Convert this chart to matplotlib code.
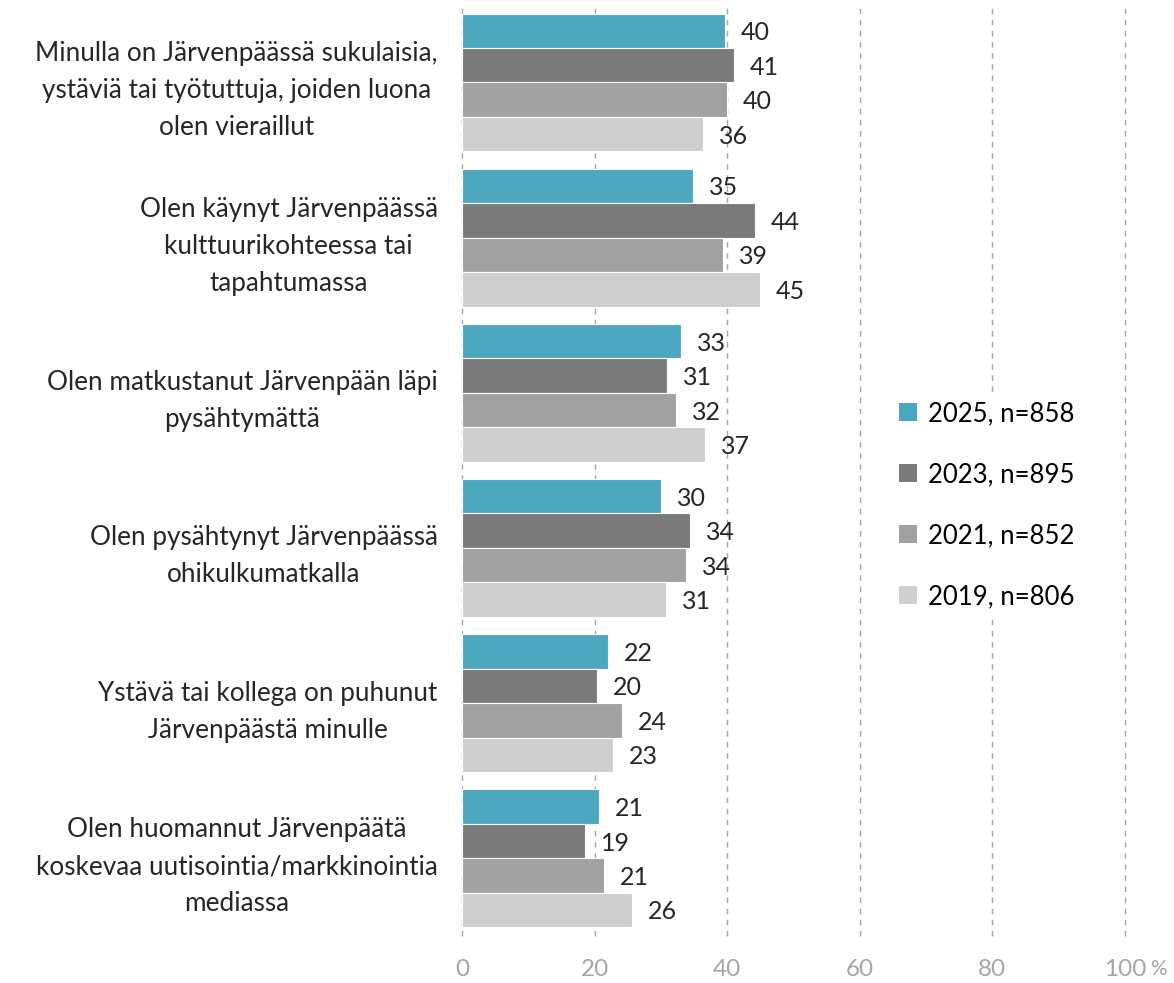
import matplotlib
matplotlib.use("Agg")
import matplotlib.pyplot as plt
import numpy as np
from matplotlib.patches import Patch

plt.rcParams['font.family'] = ['Lato', 'DejaVu Sans']

categories = [
    "Minulla on Järvenpäässä sukulaisia,\nystäviä tai työtuttuja, joiden luona\nolen vieraillut",
    "Olen käynyt Järvenpäässä\nkulttuurikohteessa tai\ntapahtumassa",
    "Olen matkustanut Järvenpään läpi\npysähtymättä",
    "Olen pysähtynyt Järvenpäässä\nohikulkumatkalla",
    "Ystävä tai kollega on puhunut\nJärvenpäästä minulle",
    "Olen huomannut Järvenpäätä\nkoskevaa uutisointia/markkinointia\nmediassa",
]
series_names = ["2025, n=858", "2023, n=895", "2021, n=852", "2019, n=806"]
v2025 = [39.6, 34.8, 33.0, 30.0, 22.0, 20.6]
v2023 = [41.0, 44.2, 30.9, 34.4, 20.4, 18.6]
v2021 = [40.0, 39.4, 32.3, 33.8, 24.1, 21.4]
v2019 = [36.3, 44.9, 36.6, 30.8, 22.8, 25.6]
xticks = [0, 20, 40, 60, 80, 100]
xticklabels = ["0", "20", "40", "60", "80", "100"]

colors = ["#4BA8BE", "#7A7A7A", "#A1A1A1", "#CFCFCF"]
series = [v2025, v2023, v2021, v2019]

fig = plt.figure(figsize=(11.74, 9.83), dpi=100)
ax = fig.add_axes([0.3935, 0.048, 0.5648, 0.947])

n = len(categories)
bh = 0.222
y = np.arange(n)
for i, (vals, col, name) in enumerate(zip(series, colors, series_names)):
    pos = y + (i - 1.5) * bh
    ax.barh(pos, vals, height=bh, color=col, edgecolor="white", linewidth=0.8, label=name, zorder=2)
    for p, v in zip(pos, vals):
        ax.text(v + 2.4, p, f"{v:.0f}", va="center_baseline", ha="left", fontsize=18, color="#262626", zorder=3)

ax.set_ylim(n - 0.5, -0.5)
ax.set_xlim(0, 100)
ax.set_yticks(y)
ax.set_yticklabels(categories, fontsize=18.8, color="#262626", multialignment="center", linespacing=1.6)
ax.tick_params(axis='y', length=0, pad=17.5)
ax.set_xticks(xticks)
ax.set_xticklabels(xticklabels, fontsize=17.5, color="#A6A6A6")
ax.tick_params(axis='x', length=0, pad=17)
fig.text(0.9795, 0.0145, "%", fontsize=15, color="#A6A6A6", ha="left", va="center")
for s in ax.spines.values():
    s.set_visible(False)
ax.grid(axis='x', color="#A6A6A6", linestyle=(0, (4, 4)), linewidth=1, zorder=0)
ax.set_axisbelow(True)
for gl in ax.get_xgridlines():
    gl.set_clip_on(False)

handles = [Patch(facecolor=c, edgecolor="none") for c in colors]
leg = fig.legend(handles, series_names, loc="center left", bbox_to_anchor=(0.748, 0.486),
                 fontsize=18.5, frameon=True, facecolor="white", edgecolor="none", framealpha=1,
                 labelspacing=1.4, handlelength=0.7, handleheight=0.7, handletextpad=0.45,
                 borderpad=0.3)
leg.set_zorder(5)

fig.savefig("out.png", dpi=100, facecolor="white")
